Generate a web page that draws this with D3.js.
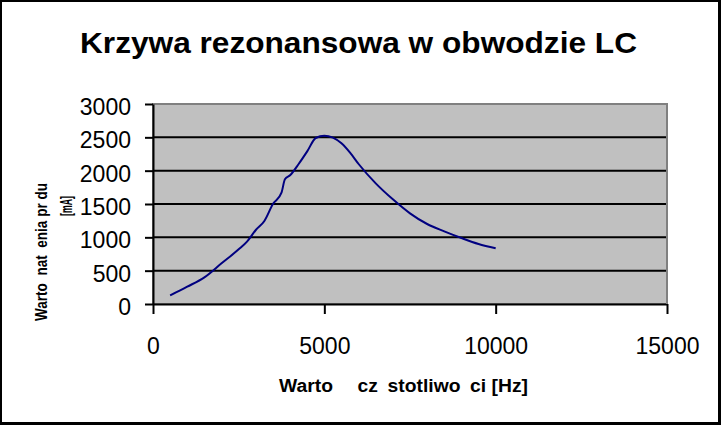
<!DOCTYPE html>
<html><head><meta charset="utf-8">
<script src="https://cdn.jsdelivr.net/npm/d3@7"></script>
<style>
html,body{margin:0;padding:0;background:#fff;}
svg{display:block;font-family:"Liberation Sans",Arial,sans-serif;}
</style></head>
<body>
<svg id="c" width="721" height="425"></svg>
<script>
// ---- data ----
const frequencies = [500,1000,1500,2000,2500,2750,3000,3250,3500,3750,3850,4000,4250,4500,4750,5000,5250,5500,5750,6000,6500,7000,7500,8000,8500,9000,9500,10000];
const currents    = [130,260,400,610,820,940,1110,1245,1500,1670,1870,1930,2100,2290,2490,2525,2495,2410,2270,2100,1810,1570,1360,1200,1090,990,900,835];
const xTicks = [0,5000,10000,15000];
const yTicks = [0,500,1000,1500,2000,2500,3000];
const titleText = "Krzywa rezonansowa w obwodzie LC";
const xTitle = "Warto\u2002\u2002 cz\u2002stotliwo\u2002ci [Hz]";
const yTitleLine1 = "Warto  nat  enia pr du";
const yTitleLine2 = "[mA]";

const svg = d3.select("#c");
const W = 721, H = 425;
const x = d3.scaleLinear().domain([0,15000]).range([153,667]);
const y = d3.scaleLinear().domain([0,3000]).range([304,104]);

// outer frame
svg.append("rect").attr("x",1).attr("y",1).attr("width",W-2).attr("height",H-2)
  .attr("fill","#fff").attr("stroke","#000").attr("stroke-width",2);
svg.append("line").attr("x1",719.5).attr("x2",719.5).attr("y1",0).attr("y2",H).attr("stroke","#000").attr("stroke-width",3);
svg.append("line").attr("x1",0).attr("x2",W).attr("y1",423.5).attr("y2",423.5).attr("stroke","#000").attr("stroke-width",3);

// plot area
svg.append("rect").attr("x",x(0)).attr("y",y(3000)).attr("width",x(15000)-x(0)).attr("height",y(0)-y(3000))
  .attr("fill","#c0c0c0").attr("stroke","#808080").attr("stroke-width",2);

// gridlines
svg.append("g").selectAll("line").data(yTicks.filter(v=>v>0&&v<3000)).join("line")
  .attr("x1",x(0)).attr("x2",x(15000)).attr("y1",d=>y(d)).attr("y2",d=>y(d))
  .attr("stroke","#000").attr("stroke-width",2);

// axes
const yAxis = svg.append("g").attr("transform",`translate(${x(0)},0)`)
  .call(d3.axisLeft(y).tickValues(yTicks).tickSize(8).tickSizeOuter(0).tickPadding(14).tickFormat(d3.format("d")));
const xAxis = svg.append("g").attr("transform",`translate(0,${y(0)})`)
  .call(d3.axisBottom(x).tickValues(xTicks).tickSize(10).tickSizeOuter(0).tickPadding(24).tickFormat(d3.format("d")));
[yAxis,xAxis].forEach(g=>{
  g.select(".domain").attr("stroke","#000").attr("stroke-width",2);
  g.selectAll(".tick line").attr("stroke","#000").attr("stroke-width",2);
  g.selectAll(".tick text").attr("fill","#000").attr("font-size",23)
   .attr("font-family","'Liberation Sans',Arial,sans-serif");
});
yAxis.selectAll(".tick text").attr("dy","0.45em");
// right border on top of axis end
svg.append("line").attr("x1",x(15000)).attr("x2",x(15000)).attr("y1",y(3000)).attr("y2",y(0))
  .attr("stroke","#808080").attr("stroke-width",2);

// curve
const pts = frequencies.map((f,i)=>[f,currents[i]]);
svg.append("path").datum(pts)
  .attr("d",d3.line().x(d=>x(d[0])).y(d=>y(d[1])).curve(d3.curveMonotoneX))
  .attr("fill","none").attr("stroke","#000080").attr("stroke-width",2);

// titles
svg.append("text").attr("x",358.5).attr("y",52.5).attr("text-anchor","middle")
  .attr("font-size",30).attr("font-weight","bold")
  .attr("textLength",557).attr("lengthAdjust","spacingAndGlyphs").text(titleText);
svg.append("text").attr("x",403.5).attr("y",392).attr("text-anchor","middle")
  .attr("font-size",18).attr("font-weight","bold").attr("xml:space","preserve")
  .attr("textLength",249).attr("lengthAdjust","spacingAndGlyphs")
  .style("white-space","pre").text(xTitle);
svg.append("text").attr("transform","translate(47,252) rotate(-90)").attr("text-anchor","middle")
  .attr("font-size",17).attr("font-weight","bold").attr("textLength",138).attr("lengthAdjust","spacingAndGlyphs")
  .style("white-space","pre").text(yTitleLine1);
svg.append("text").attr("transform","translate(72,206) rotate(-90)").attr("text-anchor","middle")
  .attr("font-size",17).attr("font-weight","bold").attr("textLength",20).attr("lengthAdjust","spacingAndGlyphs")
  .text(yTitleLine2);
</script>
</body></html>
